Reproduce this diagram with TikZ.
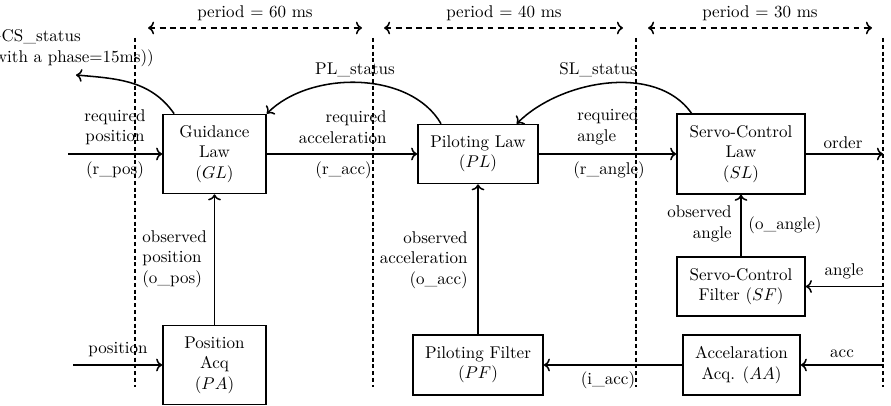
\documentclass[tikz,border=0pt]{standalone}
\usetikzlibrary{arrows.meta}
\begin{document}
\begin{tikzpicture}[x=0.02067cm, y=0.02067cm,
  box/.style={draw, line width=0.9pt, align=center, inner sep=1pt},
  conn/.style={line width=0.9pt, ->},
  vsep/.style={line width=0.9pt, dash pattern=on 2.4pt off 1.6pt},
  per/.style={line width=0.9pt, dash pattern=on 3.5pt off 2.5pt, <->},
  lbl/.style={inner sep=0pt}]
\useasboundingbox (0,0) rectangle (891,405);
% boxes
\node[box, minimum width=60.6pt, minimum height=46.5pt] (GL) at (214.5,251) {Guidance\\Law\\($GL$)};
\node[box, minimum width=70.6pt, minimum height=34.7pt] (PL) at (478,251) {Piloting Law\\($PL$)};
\node[box, minimum width=75.3pt, minimum height=47pt] (SL) at (741,251) {Servo-Control\\Law\\($SL$)};
\node[box, minimum width=75.3pt, minimum height=34.7pt] (SF) at (741,118.5) {Servo-Control\\Filter ($SF$)};
\node[box, minimum width=68.8pt, minimum height=35.3pt] (AA) at (741.5,40) {Accelaration\\Acq. ($AA$)};
\node[box, minimum width=76.5pt, minimum height=35.3pt] (PF) at (478,40) {Piloting Filter\\($PF$)};
\node[box, minimum width=60.6pt, minimum height=46.5pt] (PA) at (214.5,40) {Position\\Acq\\($PA$)};
% free ends
\coordinate (inpos) at (68,251);
\coordinate (inposition) at (73,40);
\coordinate (outorder) at (883,251);
\coordinate (inangle) at (883,118.5);
\coordinate (inacc) at (883,40);
\coordinate (gcs) at (76,330);
% separators
\foreach \n/\x in {a/135,b/373,c/636,d/883}{
  \coordinate (\n top) at (\x,367);
  \coordinate (\n bot) at (\x,18);
  \draw[vsep] (\n top) -- (\n bot);
}
% periods
\coordinate (p1a) at (148,377); \coordinate (p1b) at (362,377);
\coordinate (p2a) at (384,377); \coordinate (p2b) at (623,377);
\coordinate (p3a) at (648,377); \coordinate (p3b) at (872,377);
\draw[per] (p1a) -- (p1b);
\draw[per] (p2a) -- (p2b);
\draw[per] (p3a) -- (p3b);
\node (t1) at (255,392) {period = 60 ms};
\node (t2) at (504,392) {period = 40 ms};
\node (t3) at (760,392) {period = 30 ms};
% connectors
\draw[conn] (inpos) -- (GL);
\draw[conn] (GL) -- (PL);
\draw[conn] (PL) -- (SL);
\draw[conn] (SL) -- (outorder);
\draw[conn] (inposition) -- (PA);
\draw[conn] (PA) -- (GL);
\draw[conn] (PF) -- (PL);
\draw[conn] (AA) -- (PF);
\draw[conn] (inacc) -- (AA);
\draw[conn] (inangle) -- (SF);
\draw[conn] (SF) -- (SL);
\draw[conn] ([xshift=7pt]GL.north west) to[out=125,in=-5] (gcs);
\draw[conn] ([xshift=14pt]PL.north west) to[out=120,in=45,looseness=0.9] (GL.north east);
\draw[conn] ([xshift=9pt]SL.north west) to[out=125,in=45,looseness=0.9] ([xshift=-13pt]PL.north east);
% labels
\node[lbl, align=center] (l1) at (115,278) {required\\position};
\node[lbl] (l2) at (115,235) {(r\_pos)};
\node[lbl, align=right, anchor=east] (l3) at (387,278) {required\\acceleration};
\node[lbl, anchor=east] (l4) at (372,235) {(r\_acc)};
\node[lbl, align=left, anchor=west] (l5) at (577,278) {required\\angle};
\node[lbl, anchor=west] (l6) at (573,235) {(r\_angle)};
\node[lbl] (l7) at (843,262) {order};
\node[lbl] (l8) at (355,335) {PL\_status};
\node[lbl] (l9) at (598,335) {SL\_status};
\node[lbl, align=left, anchor=west] (l10) at (-12,357) {GCS\_status\\(with a phase=15ms))};
\node[lbl, align=left, anchor=west] (l11) at (142,146) {observed\\position\\(o\_pos)};
\node[lbl] (l12) at (118,55) {position};
\node[lbl, align=right, anchor=east] (l13) at (468,145) {observed\\acceleration\\(o\_acc)};
\node[lbl] (l14) at (608,25) {(i\_acc)};
\node[lbl] (l15) at (842,51) {acc};
\node[lbl] (l16) at (844,134) {angle};
\node[lbl, align=right, anchor=east] (l17) at (732,181) {observed\\angle};
\node[lbl] (l18) at (785,180) {(o\_angle)};
\end{tikzpicture}
\end{document}
